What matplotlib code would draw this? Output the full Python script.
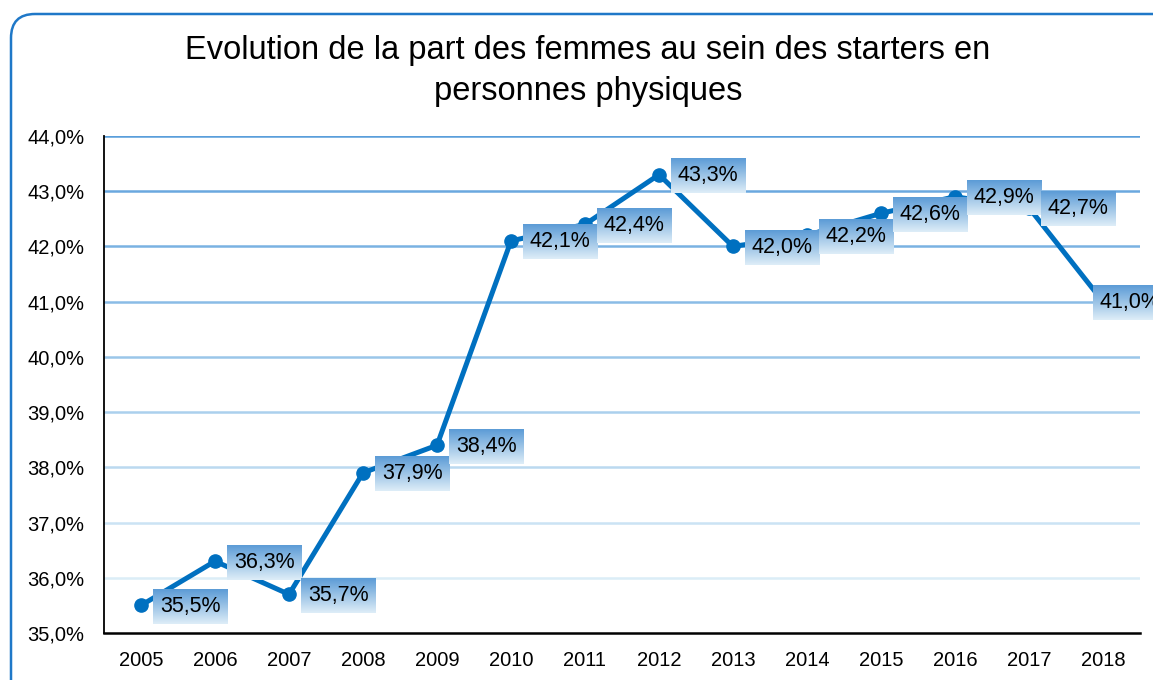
import matplotlib
matplotlib.use("Agg")
import matplotlib.pyplot as plt
import numpy as np
from matplotlib.patches import FancyBboxPatch
from matplotlib.ticker import FuncFormatter

plt.rcParams['font.family'] = ['Liberation Sans', 'DejaVu Sans']

years = ['2005', '2006', '2007', '2008', '2009', '2010', '2011', '2012',
         '2013', '2014', '2015', '2016', '2017', '2018']
values = [35.5, 36.3, 35.7, 37.9, 38.4, 42.1, 42.4, 43.3, 42.0, 42.2, 42.6, 42.9, 42.7, 41.0]
title = "Evolution de la part des femmes au sein des starters en\npersonnes physiques"

W, H = 1153, 680
fig = plt.figure(figsize=(W / 100, H / 100), dpi=100)
fig.patch.set_facecolor('white')

# rounded outer frame (drawn in pixel units)
frame = FancyBboxPatch((11, -1000), 1400, 1000 + H - 14,
                       boxstyle="round,pad=0,rounding_size=24",
                       transform=None, fc='none', ec='#1F78C8',
                       lw=1.8, zorder=0)
fig.patches.append(frame)

ax = fig.add_axes([104 / W, 1 - 633 / H, (1140 - 104) / W, (633 - 136) / H])
ax.set_zorder(2)
ax.set_facecolor('none')
x = np.arange(len(years))
ax.plot(x, values, color='#0070C0', lw=3.6, marker='o', markersize=9.5, zorder=2,
        solid_capstyle='round')

ax.set_xlim(-0.5, len(years) - 0.5)
ax.set_ylim(35, 44)
ax.set_yticks(np.arange(35, 44.01, 1))
ax.yaxis.set_major_formatter(FuncFormatter(lambda v, p: f"{v:.1f}%".replace('.', ',')))
ax.set_xticks(x)
ax.set_xticklabels(years)
ax.tick_params(axis='both', length=0, labelsize=14.5, colors='black')
ax.tick_params(axis='x', pad=13)
ax.tick_params(axis='y', pad=14)
c_top = np.array([0.35, 0.62, 0.86])
c_bot = np.array([0.86, 0.93, 0.97])
grid_vals = np.arange(36, 44.01, 1)
for yv in grid_vals:
    f = (44 - yv) / 8.0
    ax.axhline(yv, color=tuple(c_top * (1 - f) + c_bot * f), lw=1.8, zorder=1)
for s in ['top', 'right']:
    ax.spines[s].set_visible(False)
ax.spines['left'].set_color('black')
ax.spines['bottom'].set_color('black')
ax.spines['left'].set_linewidth(1.3)
ax.spines['bottom'].set_linewidth(1.8)

fig.text(588 / W, 1 - 71 / H, title, ha='center', va='center', fontsize=23.5,
         linespacing=1.38)

# data labels
offsets = [12] * len(values)
offsets[-1] = -10
texts = []
for xi, v, off in zip(x, values, offsets):
    t = ax.annotate(f"{v:.1f}%".replace('.', ','), (xi, v), xytext=(off + 7, -1),
                    textcoords='offset pixels', ha='left', va='center',
                    fontsize=15.5, zorder=5, annotation_clip=False,
                    bbox=dict(boxstyle='square,pad=0.32', fc='none', ec='none'))
    texts.append(t)

fig.canvas.draw()
r = fig.canvas.get_renderer()
grad = np.linspace(0, 1, 64)[:, None]
top = np.array([0.36, 0.61, 0.84])
bot = np.array([0.87, 0.93, 0.97])
img = top[None, None, :] * (1 - grad[:, :, None]) + bot[None, None, :] * grad[:, :, None]
inv = ax.transData.inverted()
for t in texts:
    bb = t.get_bbox_patch().get_window_extent(r)
    (x0, y0), (x1, y1) = inv.transform([[bb.x0, bb.y0], [bb.x1, bb.y1]])
    ax.imshow(img, extent=[x0, x1, y0, y1], aspect='auto', zorder=4,
              clip_on=False, interpolation='bilinear')
ax.set_xlim(-0.5, len(years) - 0.5)
ax.set_ylim(35, 44)

fig.savefig('out.png', dpi=100)
